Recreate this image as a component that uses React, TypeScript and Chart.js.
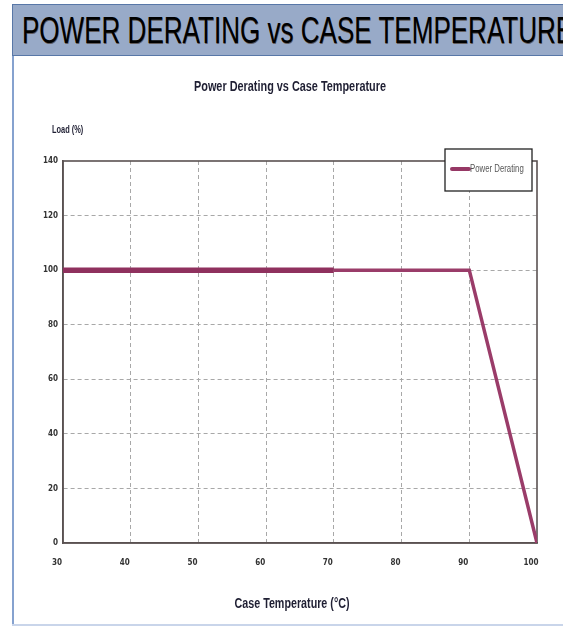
import React, { useEffect, useRef } from "react";
import { Chart, registerables } from "chart.js";

Chart.register(...registerables);

const temperatures = [30, 70, 90, 100];
const loadPercent = [100, 100, 100, 0];
const xTicks = [30, 40, 50, 60, 70, 80, 90, 100];
const yTicks = [0, 20, 40, 60, 80, 100, 120, 140];
const seriesLabel = "Power Derating";
const chartTitle = "Power Derating vs Case Temperature";
const xTitle = "Case Temperature (°C)";
const yTitle = "Load (%)";
const headerText = "POWER DERATING vs CASE TEMPERATURE";

const SANS = '"Liberation Sans", Arial, sans-serif';
const CONDENSED = '"DejaVu Sans Condensed", "Liberation Sans", sans-serif';
const LINE_COLOR = "#963865";
const FRAME_COLOR = "#5a5252";
const GRID_COLOR = "#a8a8a8";
const TEXT_COLOR = "#1f1f33";

function narrowText(
  ctx: CanvasRenderingContext2D,
  text: string,
  x: number,
  y: number,
  font: string,
  color: string,
  align: CanvasTextAlign,
  squeeze: number
) {
  ctx.save();
  ctx.font = font;
  ctx.fillStyle = color;
  ctx.textAlign = align;
  ctx.textBaseline = "middle";
  ctx.translate(x, y);
  ctx.scale(squeeze, 1);
  ctx.fillText(text, 0, 0);
  ctx.restore();
}

export default function App() {
  const canvasRef = useRef<HTMLCanvasElement | null>(null);

  useEffect(() => {
    document.body.style.margin = "0";
    const canvas = canvasRef.current;
    if (!canvas) return;

    const decorations = {
      id: "decorations",
      beforeDatasetsDraw(chart: any) {
        const { ctx, chartArea } = chart;
        ctx.save();
        ctx.strokeStyle = FRAME_COLOR;
        ctx.lineWidth = 1.6;
        ctx.strokeRect(chartArea.left, chartArea.top, chartArea.right - chartArea.left, chartArea.bottom - chartArea.top);
        ctx.restore();
      },
      afterDraw(chart: any) {
        const { ctx, chartArea } = chart;
        const midX = (chartArea.left + chartArea.right) / 2;
        // chart title
        narrowText(ctx, chartTitle, midX - 10, chartArea.top - 74.5, `bold 14.5px ${SANS}`, TEXT_COLOR, "center", 0.75);
        // y axis title
        narrowText(ctx, yTitle, chartArea.left - 11, chartArea.top - 31, `bold 10px ${SANS}`, TEXT_COLOR, "left", 0.74);
        // x axis title
        narrowText(ctx, xTitle, midX - 8, chartArea.bottom + 61, `bold 14.5px ${SANS}`, TEXT_COLOR, "center", 0.74);
        // legend
        ctx.save();
        const w = 87;
        const h = 42;
        const lx = chartArea.right - 5 - w;
        const ly = chartArea.top - 12;
        ctx.fillStyle = "#ffffff";
        ctx.fillRect(lx, ly, w, h);
        ctx.strokeStyle = "#222222";
        ctx.lineWidth = 1.3;
        ctx.strokeRect(lx, ly, w, h);
        const ds = chart.data.datasets[0];
        ctx.strokeStyle = ds.borderColor;
        ctx.lineWidth = 4;
        ctx.lineCap = "round";
        ctx.beginPath();
        ctx.moveTo(lx + 7, ly + 20);
        ctx.lineTo(lx + 24, ly + 20);
        ctx.stroke();
        ctx.restore();
        narrowText(ctx, ds.label, lx + 25, ly + 20.5, `10px ${SANS}`, "#555555", "left", 0.78);
      },
    };

    const chart = new Chart(canvas, {
      type: "line",
      data: {
        datasets: [
          {
            label: seriesLabel,
            data: temperatures.map((t, i) => ({ x: t, y: loadPercent[i] })),
            borderColor: LINE_COLOR,
            borderWidth: 3.5,
            pointRadius: 0,
            tension: 0,
            borderJoinStyle: "miter",
            segment: {
              borderWidth: (c: any) => (c.p0DataIndex === 0 ? 5.5 : 3.5),
              borderColor: (c: any) => (c.p0DataIndex === 0 ? "#8f315e" : "#9a3c69"),
            },
          } as any,
        ],
      },
      options: {
        responsive: false,
        animation: false,
        layout: { padding: { left: 0, right: 26, top: 161, bottom: 0 } },
        plugins: {
          legend: { display: false },
          tooltip: { enabled: false },
          title: { display: false },
        },
        scales: {
          x: {
            type: "linear",
            min: xTicks[0],
            max: xTicks[xTicks.length - 1],
            afterBuildTicks: (s: any) => {
              s.ticks = xTicks.map((v) => ({ value: v }));
            },
            afterFit: (s: any) => {
              s.height = 84;
            },
            ticks: {
              padding: 15,
              labelOffset: -6,
              color: "#333333",
              font: { family: CONDENSED, size: 8, weight: "bold" },
              maxRotation: 0,
              autoSkip: false,
            },
            grid: {
              drawTicks: false,
              color: (c: any) =>
                c.tick && (c.tick.value === xTicks[0] || c.tick.value === xTicks[xTicks.length - 1]) ? "rgba(0,0,0,0)" : GRID_COLOR,
              lineWidth: 1,
            },
            border: { display: true, color: FRAME_COLOR, width: 1.6, dash: [4, 3] },
          },
          y: {
            type: "linear",
            position: "left",
            min: yTicks[0],
            max: yTicks[yTicks.length - 1],
            afterBuildTicks: (s: any) => {
              s.ticks = yTicks.map((v) => ({ value: v }));
            },
            afterFit: (s: any) => {
              s.width = 63;
            },
            ticks: {
              padding: 5,
              color: "#333333",
              font: { family: CONDENSED, size: 8, weight: "bold" },
              autoSkip: false,
            },
            grid: {
              drawTicks: false,
              color: (c: any) =>
                c.tick && (c.tick.value === yTicks[0] || c.tick.value === yTicks[yTicks.length - 1]) ? "rgba(0,0,0,0)" : GRID_COLOR,
              lineWidth: 1,
            },
            border: { display: true, color: FRAME_COLOR, width: 1.6, dash: [4, 3] },
          },
        },
      } as any,
      plugins: [decorations],
    });

    return () => {
      chart.destroy();
    };
  }, []);

  return (
    <div
      style={{
        position: "absolute",
        left: 0,
        top: 0,
        width: 563,
        height: 627,
        overflow: "hidden",
        background: "#ffffff",
      }}
    >
      <div
        style={{
          position: "absolute",
          left: 12,
          top: 4,
          width: 600,
          height: 50,
          background: "#98aac8",
          borderTop: "1px solid #5877a7",
          borderLeft: "1px solid #5877a7",
          borderBottom: "1px solid #5877a7",
          overflow: "hidden",
        }}
      >
        <span
          style={{
            position: "absolute",
            left: 9,
            top: 7.6,
            fontFamily: SANS,
            fontSize: 31,
            lineHeight: "31px",
            color: "#000000",
            whiteSpace: "nowrap",
            transform: "scale(0.84, 1.17)",
            transformOrigin: "top left",
            textShadow: "0.5px 0.5px 0 rgba(60,40,20,0.6)",
          }}
        >
          {headerText}
        </span>
      </div>
      <div
        style={{
          position: "absolute",
          left: 12,
          top: 56,
          width: 2,
          height: 570,
          background: "#86a2cf",
        }}
      />
      <div
        style={{
          position: "absolute",
          left: 12,
          top: 624,
          width: 560,
          height: 2,
          background: "#c9d5ea",
        }}
      />
      <canvas
        ref={canvasRef}
        width={563}
        height={627}
        style={{ position: "absolute", left: 0, top: 0, width: 563, height: 627 }}
      />
    </div>
  );
}
